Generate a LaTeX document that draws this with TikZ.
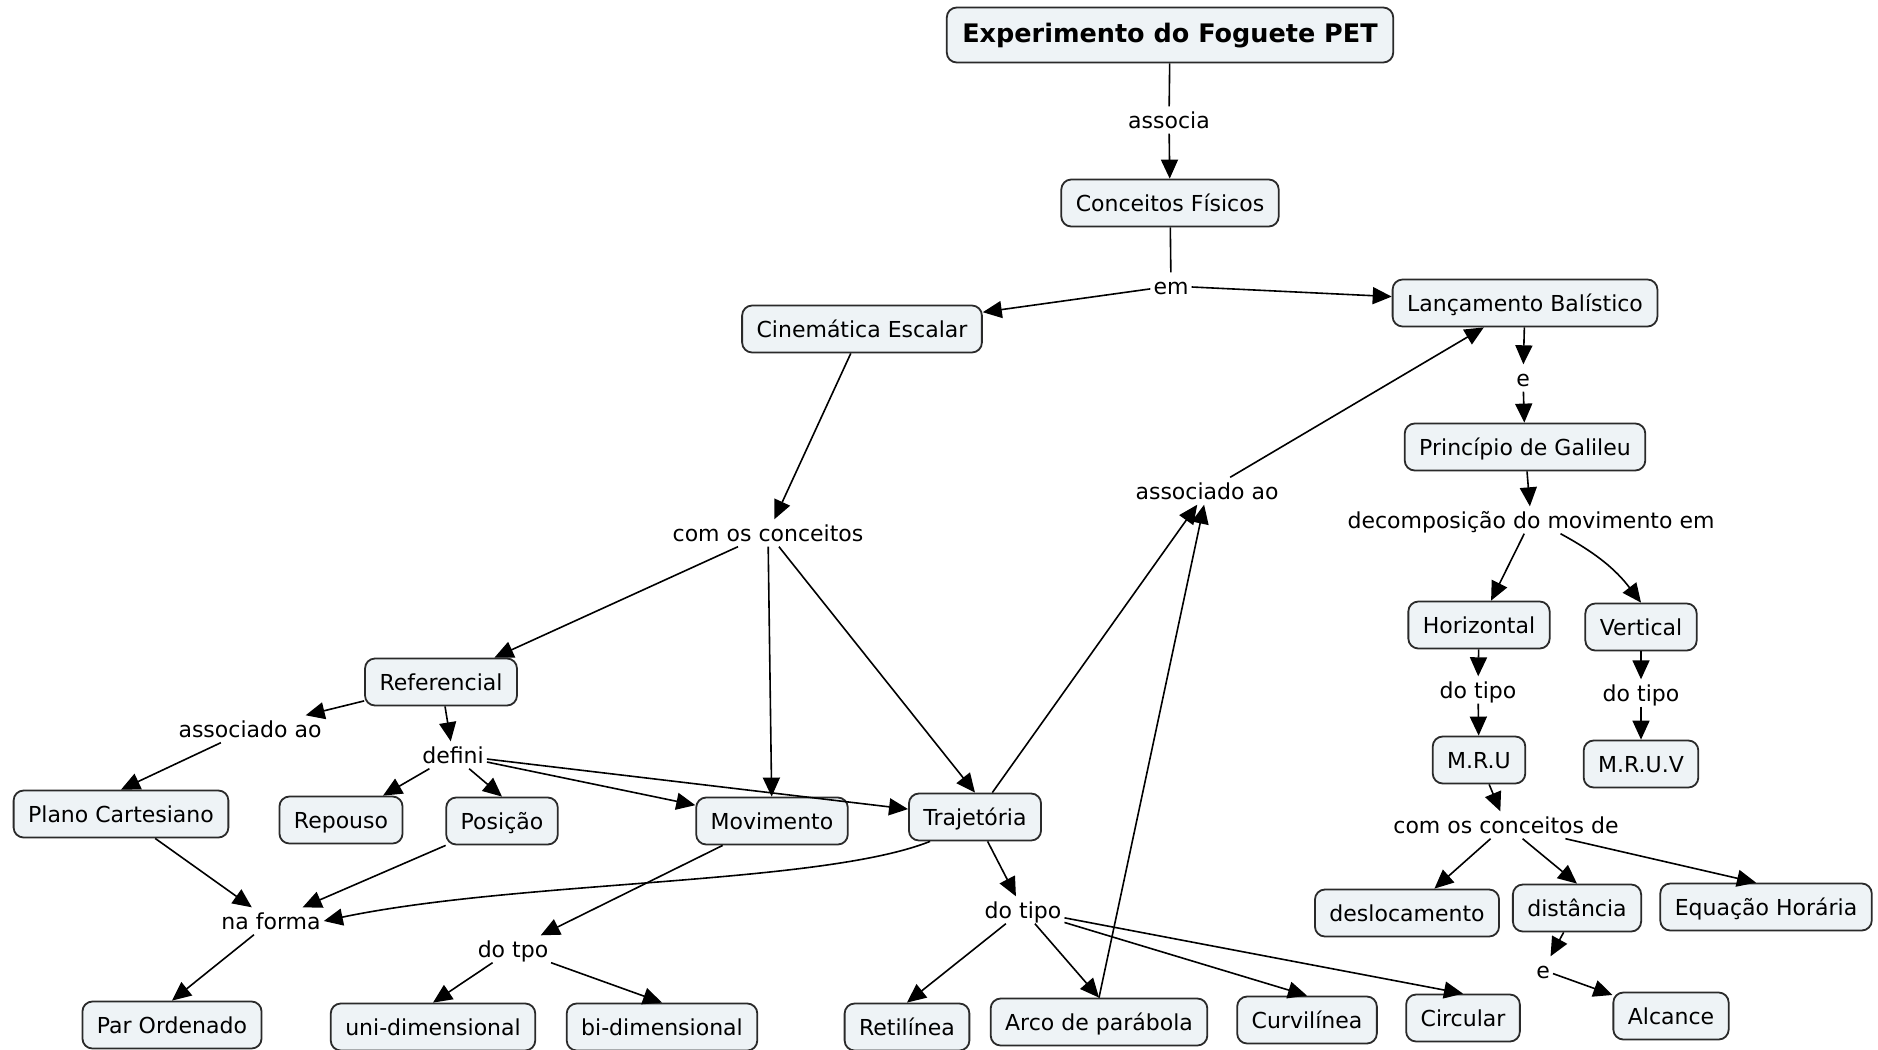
\documentclass[tikz,border=0pt]{standalone}
\usepackage{fontspec}
\setmainfont{DejaVu Sans}
\usetikzlibrary{arrows.meta}
\definecolor{boxfill}{HTML}{EEF3F6}
\definecolor{boxline}{HTML}{2A2A2A}

\begin{document}
\begin{tikzpicture}[x=1pt,y=-1pt,
  concept/.style={draw=boxline, fill=boxfill, line width=1.8pt, rounded corners=10pt,
    inner xsep=14.5pt, inner ysep=0pt, minimum height=47pt,
    text height=19pt, text depth=2pt, font=\fontsize{22}{26}\selectfont},
  link/.style={inner sep=3pt, text height=19pt, text depth=2pt, font=\fontsize{22}{26}\selectfont},
  arr/.style={line width=1.6pt, -{Triangle[length=19pt,width=17pt]}},
  ln/.style={line width=1.6pt}]

\path[use as bounding box, fill=white] (0,0) rectangle (1878,1049);

% concepts
\node[concept, minimum height=55pt, inner xsep=15.5pt, font=\bfseries\fontsize{25.5}{30}\selectfont, text height=20pt, text depth=5pt]
      (title) at (1170,35) {Experimento do Foguete PET};
\node[concept] (conc)  at (1170,203) {Conceitos Físicos};
\node[concept] (lanc)  at (1525,303) {Lançamento Balístico};
\node[concept] (cine)  at (862,329)  {Cinemática Escalar};
\node[concept] (princ) at (1525,447) {Princípio de Galileu};
\node[concept] (horiz) at (1479,625) {Horizontal};
\node[concept] (vert)  at (1641,627) {Vertical};
\node[concept] (mru)   at (1479,760) {M.R.U};
\node[concept] (mruv)  at (1641,764) {M.R.U.V};
\node[concept] (desl)  at (1407,913) {deslocamento};
\node[concept] (dist)  at (1577,908) {distância};
\node[concept] (eqh)   at (1766,907) {Equação Horária};
\node[concept] (alc)   at (1671,1016) {Alcance};
\node[concept] (circ)  at (1463,1018) {Circular};
\node[concept] (curv)  at (1307,1020) {Curvilínea};
\node[concept] (arco)  at (1099,1022) {Arco de parábola};
\node[concept] (ret)   at (907,1027)  {Retilínea};
\node[concept] (traj)  at (975,817)  {Trajetória};
\node[concept] (mov)   at (772,821)  {Movimento};
\node[concept] (pos)   at (502,821)  {Posição};
\node[concept] (rep)   at (341,820)  {Repouso};
\node[concept] (plano) at (121,814)  {Plano Cartesiano};
\node[concept] (ref)   at (441,682)  {Referencial};
\node[concept] (par)   at (172,1025) {Par Ordenado};
\node[concept] (uni)   at (433,1027) {uni-dimensional};
\node[concept] (bi)    at (662,1027) {bi-dimensional};

% linking phrases
\node[link] (associa) at (1169,120) {associa};
\node[link] (em)      at (1171,286) {em};
\node[link] (eA)      at (1523,378) {e};
\node[link] (assocR)  at (1207,491) {associado ao};
\node[link] (comos)   at (768,533)  {com os conceitos};
\node[link] (decomp)  at (1531,520) {decomposição do movimento em};
\node[link] (assocL)  at (250,729)  {associado ao};
\node[link] (defini)  at (453,755)  {defini};
\node[link] (tipoH)   at (1478,690) {do tipo};
\node[link] (tipoV)   at (1641,693) {do tipo};
\node[link] (comosde) at (1506,825) {com os conceitos de};
\node[link] (naforma) at (271,921)  {na forma};
\node[link] (dotpo)   at (513,949)  {do tpo};
\node[link] (tipoT)   at (1023,910) {do tipo};
\node[link] (eB)      at (1543,970) {e};

% connectors
\draw[ln]  (title) -- (associa);
\draw[arr] (associa) -- (conc);
\draw[ln]  (conc) -- (em);
\draw[arr] (em) -- (cine);
\draw[arr] (em) -- (lanc);
\draw[arr] (lanc) -- (eA);
\draw[arr] (eA) -- (princ);
\draw[arr] (princ) -- (decomp);
\draw[arr] (decomp) -- (horiz);
\draw[arr] (decomp) to[bend left=12] (vert.north);
\draw[arr] (horiz) -- (tipoH);
\draw[arr] (tipoH) -- (mru);
\draw[arr] (vert) -- (tipoV);
\draw[arr] (tipoV) -- (mruv);
\draw[arr] (mru) -- (comosde);
\draw[arr] (comosde) -- (desl);
\draw[arr] (comosde) -- (dist.north);
\draw[arr] (comosde) -- ([xshift=-10pt]eqh.north);
\draw[arr] (dist) -- (eB);
\draw[arr] (eB) -- (alc);

\draw[arr] (cine) -- (comos);
\draw[arr] (comos) -- (ref);
\draw[arr] (comos) -- (mov);
\draw[arr] (comos) -- (traj.north);
\draw[arr] (traj) -- (assocR);
\draw[arr] (arco.north) -- (assocR);
\draw[arr] (assocR) -- (lanc);

\draw[arr] (ref) -- (assocL);
\draw[arr] (assocL) -- (plano.north);
\draw[arr] (ref) -- (defini);
\draw[arr] (defini) -- (rep);
\draw[arr] (defini) -- (pos.north);
\draw[arr] (defini) -- (mov);
\draw[arr] (defini) -- (traj);

\draw[arr] (plano) -- (naforma);
\draw[arr] (pos) -- (naforma);
\draw[arr] ([xshift=22pt]traj.south west) .. controls (820,885) and (520,880) .. (naforma.east);
\draw[arr] (naforma) -- (par.north);

\draw[arr] (mov) -- (dotpo);
\draw[arr] (dotpo) -- (uni.north);
\draw[arr] (dotpo) -- (bi.north);

\draw[arr] (traj) -- (tipoT);
\draw[arr] (tipoT) -- (ret.north);
\draw[arr] (tipoT) -- (arco.north);
\draw[arr] (tipoT) -- (curv.north);
\draw[arr] (tipoT) -- (circ.north);
\end{tikzpicture}
\end{document}
